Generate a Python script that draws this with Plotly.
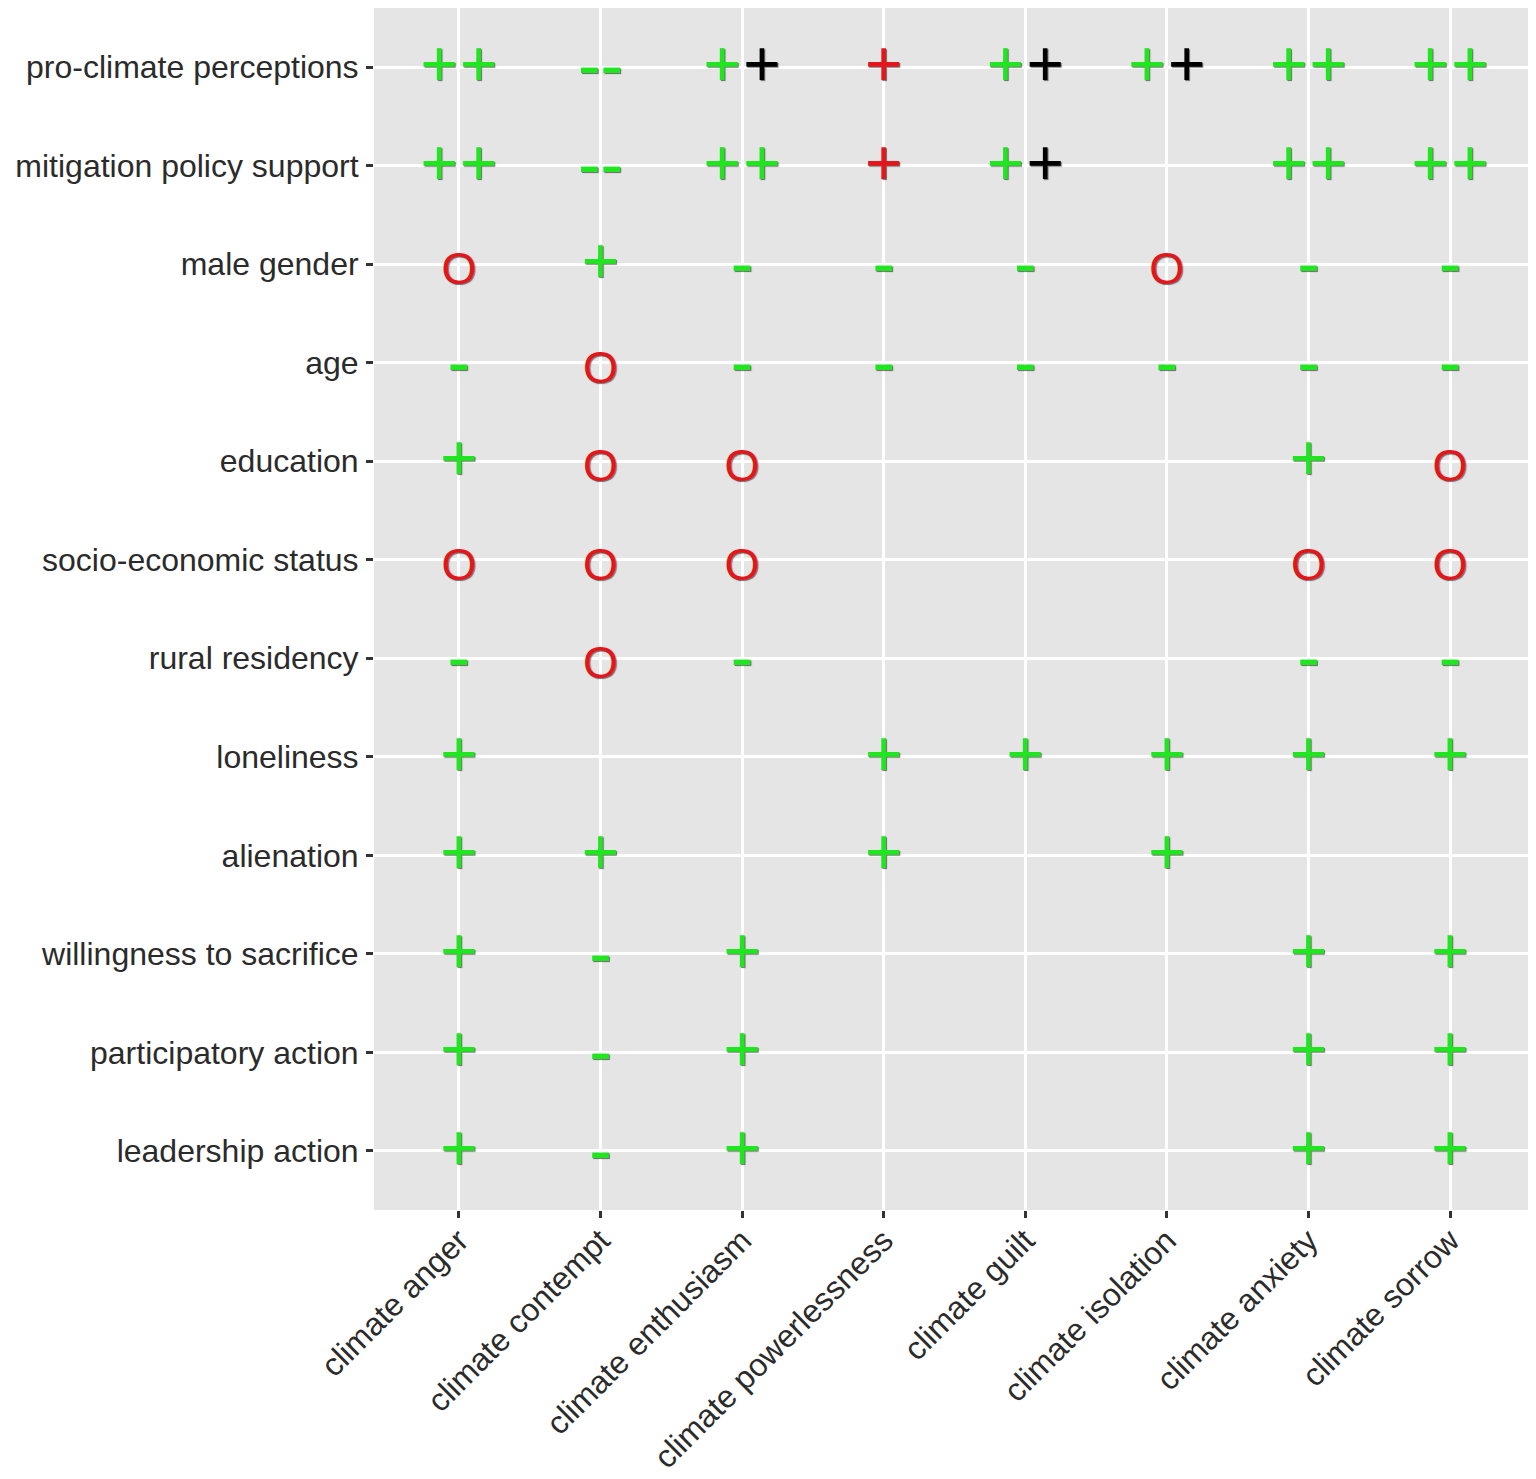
import plotly.graph_objects as go

# outcome rows (top to bottom) and emotion columns (left to right)
predictors = [
    "pro-climate perceptions",
    "mitigation policy support",
    "male gender",
    "age",
    "education",
    "socio-economic status",
    "rural residency",
    "loneliness",
    "alienation",
    "willingness to sacrifice",
    "participatory action",
    "leadership action",
]
emotions = [
    "climate anger",
    "climate contempt",
    "climate enthusiasm",
    "climate powerlessness",
    "climate guilt",
    "climate isolation",
    "climate anxiety",
    "climate sorrow",
]

# cell codes: "+" positive, "-" negative, "O" null,
# "R" red plus, "K" black plus, "" nothing shown
effects = [
    ["++", "--", "+K", "R", "+K", "+K", "++", "++"],
    ["++", "--", "++", "R", "+K", "", "++", "++"],
    ["O", "+", "-", "-", "-", "O", "-", "-"],
    ["-", "O", "-", "-", "-", "-", "-", "-"],
    ["+", "O", "O", "", "", "", "+", "O"],
    ["O", "O", "O", "", "", "", "O", "O"],
    ["-", "O", "-", "", "", "", "-", "-"],
    ["+", "", "", "+", "+", "+", "+", "+"],
    ["+", "+", "", "+", "", "+", "", ""],
    ["+", "-", "+", "", "", "", "+", "+"],
    ["+", "-", "+", "", "", "", "+", "+"],
    ["+", "-", "+", "", "", "", "+", "+"],
]

GREEN = "#20E620"
RED = "#E3161B"
BLACK = "#000000"
FONT = "Liberation Sans, Arial, sans-serif"

# glyph, colour, font size, vertical nudge (rows)
styles = {
    "+": ("+", GREEN, 64, 0.03),
    "R": ("+", RED, 64, 0.03),
    "K": ("+", BLACK, 64, 0.03),
    "-": ("-", GREEN, 68, 0.06),
    "--": ("--", GREEN, 68, 0.05),
    "O": ("O", RED, 45, 0.09),
}

# split cells into individual glyphs with a small horizontal offset for pairs
marks = {k: ([], []) for k in styles}
for i, row in enumerate(effects):
    for j, cell in enumerate(row):
        if not cell:
            continue
        if cell == "--":
            marks["--"][0].append(j)
            marks["--"][1].append(i)
            continue
        n = len(cell)
        for k, ch in enumerate(cell):
            off = (k - (n - 1) / 2) * 0.28
            marks[ch][0].append(j + off)
            marks[ch][1].append(i)

fig = go.Figure()
for key, (xs, ys) in marks.items():
    if not xs:
        continue
    txt, col, size, dy = styles[key]
    fig.add_trace(go.Scatter(
        x=xs, y=[y + dy for y in ys], mode="text", text=[txt] * len(xs),
        textposition="middle center",
        textfont=dict(family=FONT, size=size, color=col,
                      shadow="1px 1px 1px rgba(0,0,0,0.55)"),
        hoverinfo="skip", showlegend=False,
    ))

axis_common = dict(
    showgrid=True, gridcolor="white", gridwidth=3,
    zeroline=False, showline=False, automargin=False,
    ticks="outside", ticklen=7, tickwidth=2.5, tickcolor="#333333",
)

fig.update_xaxes(
    tickvals=list(range(len(emotions))), ticktext=emotions,
    range=[-0.6, len(emotions) - 0.4], tickangle=-45,
    ticklabelstandoff=-9,
    tickfont=dict(family=FONT, size=32, color="#2b2b2b"),
    **axis_common,
)
fig.update_yaxes(
    tickvals=list(range(len(predictors))), ticktext=predictors,
    range=[len(predictors) - 0.4, -0.6],
    ticklabelstandoff=1,
    tickfont=dict(family=FONT, size=32, color="#2b2b2b"),
    **axis_common,
)

# page body adds an 8px offset, so the figure is a little smaller
fig.update_layout(
    width=1528, height=1471,
    margin=dict(l=366, r=1, t=0, b=269),
    plot_bgcolor="#E5E5E5", paper_bgcolor="white",
)

fig.write_html("out.html")
